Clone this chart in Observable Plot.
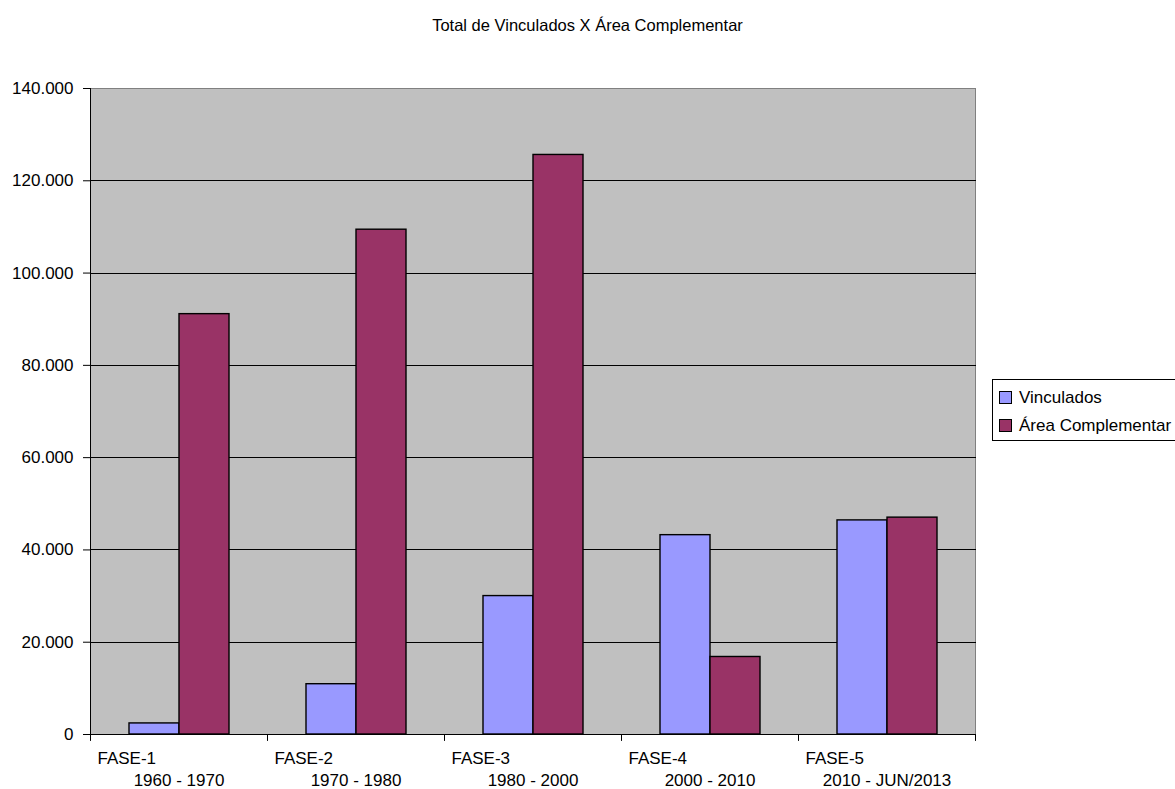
<!DOCTYPE html>
<html>
<head>
<meta charset="utf-8">
<script src="https://cdn.jsdelivr.net/npm/d3@7"></script>
<script src="https://cdn.jsdelivr.net/npm/@observablehq/plot@0.6"></script>
<style>
  html, body { margin: 0; padding: 0; background: white; }
  #wrap { position: relative; width: 1175px; height: 789px; overflow: hidden; font-family: "Liberation Sans", Arial, Helvetica, sans-serif; }
  #title { height: 25px; padding-top: 15px; line-height: 20px; text-align: center; font-size: 16.5px; color: #000; }
  #legend { position: absolute; left: 992px; top: 379px; width: 220px; height: 62px; border: 1px solid #000; background: white; box-sizing: border-box; font-size: 17px; }
  .item { position: absolute; left: 6px; height: 20px; line-height: 20px; white-space: nowrap; }
  .sw { display: inline-block; width: 11px; height: 11px; border: 1px solid #000; vertical-align: middle; margin-right: 7px; position: relative; top: -1px; }
</style>
</head>
<body>
<div id="wrap">
  <div id="title"></div>
  <div id="chart"></div>
  <div id="legend"></div>
</div>
<script>
const title = "Total de Vinculados X Área Complementar";
const fases = ["FASE-1", "FASE-2", "FASE-3", "FASE-4", "FASE-5"];
const periodos = ["1960 - 1970", "1970 - 1980", "1980 - 2000", "2000 - 2010", "2010 - JUN/2013"];
const series = ["Vinculados", "Área Complementar"];
const vinculados = [2400, 10900, 30000, 43200, 46400];
const areaComplementar = [91100, 109400, 125600, 16800, 47000];
const colors = ["#9999FF", "#993366"];
const yTicks = [0, 20000, 40000, 60000, 80000, 100000, 120000, 140000];

const rows = [];
fases.forEach((f, i) => {
  rows.push({fase: f, serie: series[0], value: vinculados[i]});
  rows.push({fase: f, serie: series[1], value: areaComplementar[i]});
});

const fmt = d => d3.format(",")(d).replace(/,/g, ".");
const tickShape = { draw(context, l) { context.moveTo(0, 0); context.lineTo(0, -l); } };

document.getElementById("title").textContent = title;

const chart = Plot.plot({
  width: 1175,
  height: 749,
  marginTop: 48,
  marginBottom: 55,
  marginLeft: 88,
  marginRight: 198,
  style: { fontFamily: "Liberation Sans, Arial, Helvetica, sans-serif", fontSize: "17px", color: "black", background: "white", overflow: "visible" },
  fx: { domain: fases, padding: 0, axis: null },
  x: { domain: series, paddingInner: 0, paddingOuter: 0.76, axis: null },
  y: { domain: [0, 140000], ticks: yTicks, tickFormat: fmt, tickSize: 7, tickPadding: 10, label: null },
  color: { domain: series, range: colors },
  marks: [
    Plot.frame({ facet: "super", fill: "#C0C0C0", stroke: "#808080", strokeWidth: 1 }),
    Plot.ruleY(yTicks.slice(1, -1), { stroke: "black", strokeWidth: 1, insetRight: -1, shapeRendering: "crispEdges" }),
    Plot.barY(rows, { fx: "fase", x: "serie", y: "value", fill: "serie", stroke: "black", strokeWidth: 1.4, inset: 0 }),
    Plot.ruleY([0], { stroke: "black", strokeWidth: 1, insetRight: -1, shapeRendering: "crispEdges" }),
    Plot.frame({ facet: "super", stroke: "black", strokeWidth: 1, anchor: "left" }),
    Plot.vector(fases, { fx: d => d, frameAnchor: "bottom-left", length: 6, rotate: 180, anchor: "start", shape: tickShape, stroke: "black", strokeWidth: 1 }),
    Plot.vector([fases[fases.length - 1]], { fx: d => d, frameAnchor: "bottom-right", length: 6, rotate: 180, anchor: "start", shape: tickShape, stroke: "black", strokeWidth: 1 }),
    Plot.text(fases, { fx: d => d, text: d => d, frameAnchor: "bottom-left", textAnchor: "start", lineAnchor: "middle", dx: 7, dy: 24, fill: "black" }),
    Plot.text(fases, { fx: d => d, text: (d, i) => periodos[i], frameAnchor: "bottom", textAnchor: "middle", lineAnchor: "middle", dx: 0, dy: 46, fill: "black" })
  ]
});
document.getElementById("chart").appendChild(chart);

const legend = document.getElementById("legend");
series.forEach((s, i) => {
  const it = document.createElement("div");
  it.className = "item";
  it.style.top = (8 + i * 28) + "px";
  const sw = document.createElement("span");
  sw.className = "sw";
  sw.style.background = colors[i];
  it.appendChild(sw);
  it.appendChild(document.createTextNode(s));
  legend.appendChild(it);
});
</script>
</body>
</html>
